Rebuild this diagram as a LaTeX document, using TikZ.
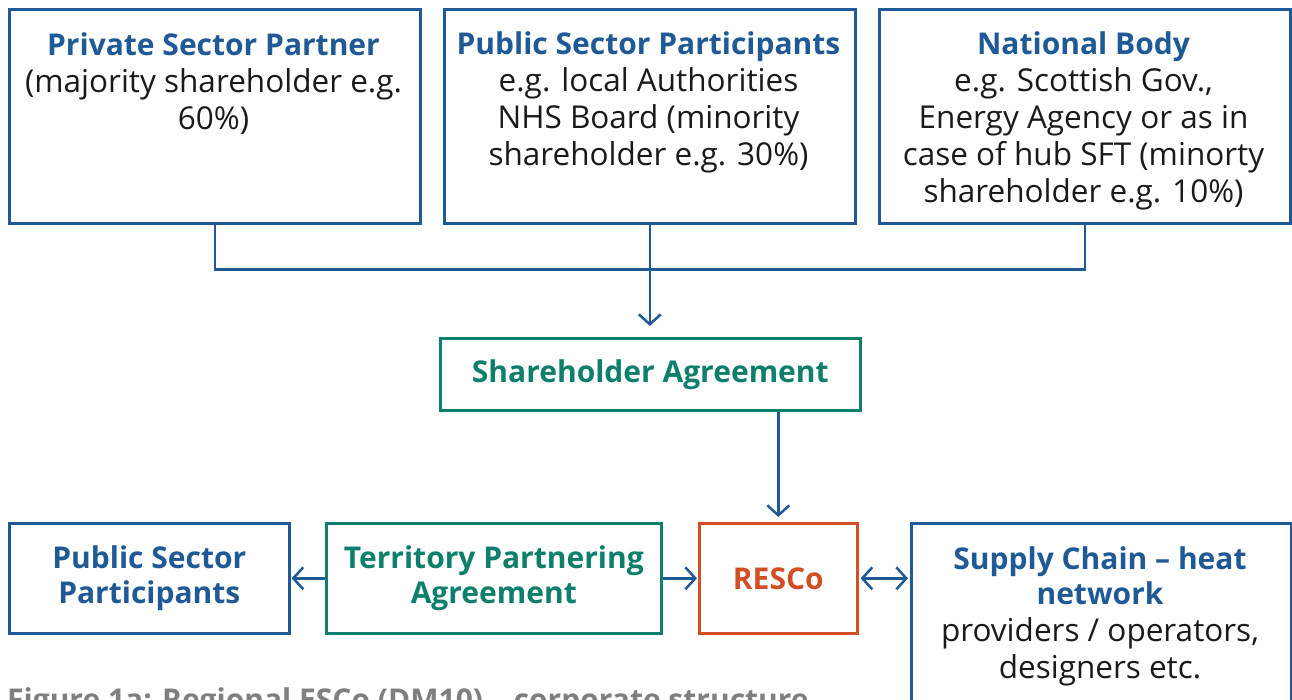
\documentclass[tikz,border=0pt]{standalone}
\usepackage{fontspec}
\setmainfont{Open Sans}
\usetikzlibrary{arrows.meta}
\definecolor{navy}{HTML}{1F5A96}
\definecolor{teal}{HTML}{0E7F6B}
\definecolor{rust}{HTML}{D24E27}
\definecolor{ink}{HTML}{1A1A1A}
\definecolor{capgray}{HTML}{7F7F7F}
\newcommand{\bodysize}{\fontsize{31.5}{37}\selectfont}
\newcommand{\headsize}{\fontsize{30}{35}\selectfont\bfseries}
\begin{document}
\begin{tikzpicture}[x=1pt,y=-1pt,
  frame/.style={draw=#1, line width=2.6pt, anchor=north west, inner sep=0pt},
  txt/.style={align=center, inner sep=0pt, font=\bodysize, text=ink},
  hd/.style={txt, font=\headsize},
  link/.style={draw=navy, line width=2.5pt},
  barb/.tip={Straight Barb[length=10pt,width=22pt,line width=2.5pt]},
  tip/.style={-barb},
]
\useasboundingbox (0,0) rectangle (1292,699);
\begin{scope}
\clip (0,0) rectangle (1292,699);

% top row of partners
\node[frame=navy, minimum width=411, minimum height=214] (priv) at (8,8) {};
\node[frame=navy, minimum width=411, minimum height=214] (pub)  at (443,8) {};
\node[frame=navy, minimum width=411, minimum height=214] (nat)  at (878,8) {};

\node[txt, anchor=north] (privtxt) at (213.5,33) {\textcolor{navy}{\headsize Private Sector Partner}\\(majority shareholder e.g.\\60\%)};
\node[txt, anchor=north] (pubtxt) at (648.5,32) {\textcolor{navy}{\headsize Public Sector Participants}\\e.g. local Authorities\\NHS Board (minority\\shareholder e.g. 30\%)};
\node[txt, anchor=north] (nattxt) at (1083.5,32) {\textcolor{navy}{\headsize National Body}\\e.g. Scottish Gov.,\\Energy Agency or as in\\case of hub SFT (minorty\\shareholder e.g. 10\%)};

% agreements and company
\node[frame=teal, minimum width=420, minimum height=72, hd, text=teal] (sha) at (439,337) {Shareholder Agreement};
\node[frame=rust, minimum width=158, minimum height=110, hd, text=rust] (resco) at (698,522) {RESCo};
\node[frame=teal, minimum width=335, minimum height=110, hd, text=teal] (tpa) at (325,522) {Territory Partnering\\Agreement};
\node[frame=navy, minimum width=280, minimum height=110, hd, text=navy] (psp) at (8,522) {Public Sector\\Participants};
\node[frame=navy, minimum width=380, minimum height=220] (sup) at (910,522) {};
\node[txt, anchor=north] (suptxt) at (1100,546) {\textcolor{navy}{\headsize Supply Chain -- heat}\\[-2pt]\textcolor{navy}{\headsize network}\\providers / operators,\\designers etc.};

% connectors
\draw[link] (priv.south) -- ++(0,45) -| (nat.south);
\draw[link, tip, shorten >=11pt] (pub.south) -- (pub.south |- sha.north);
\draw[link, tip, shorten >=5pt] (sha.south -| resco.north) -- (resco.north);
\draw[link, tip, shorten >=1pt] (tpa.west) -- (psp.east);
\draw[link, tip, shorten >=1pt] (tpa.east) -- (resco.west);
\draw[link, barb-barb, shorten <=2pt, shorten >=2pt] (resco.east) -- (sup.west |- resco.east);

% caption
\node[anchor=base west, inner sep=0pt, text=capgray, font=\headsize] (cap) at (7,710) {Figure 1a: Regional ESCo (DM10) -- corporate structure};
\end{scope}
\end{tikzpicture}
\end{document}
